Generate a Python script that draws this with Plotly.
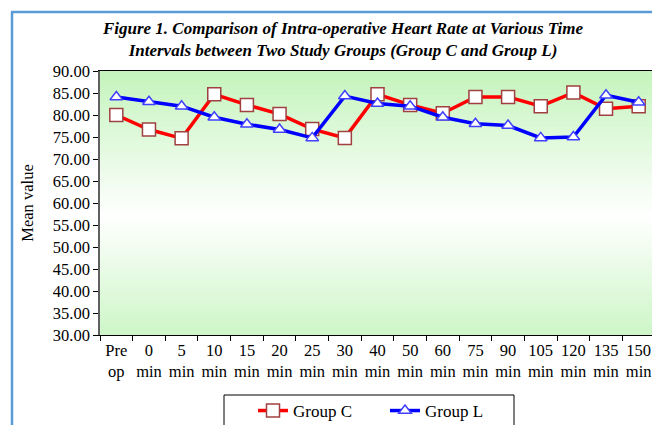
import plotly.graph_objects as go

categories = ["Pre<br>op", "0<br>min", "5<br>min", "10<br>min", "15<br>min", "20<br>min",
              "25<br>min", "30<br>min", "40<br>min", "50<br>min", "60<br>min", "75<br>min",
              "90<br>min", "105<br>min", "120<br>min", "135<br>min", "150<br>min"]
group_c = [80.0, 76.7, 74.7, 84.7, 82.3, 80.2, 76.8, 74.8, 84.7, 82.3, 80.4, 84.1,
           84.1, 82.0, 85.1, 81.4, 82.0]
group_l = [84.1, 83.0, 82.0, 79.5, 77.9, 76.7, 74.8, 84.3, 82.6, 82.0, 79.5, 78.0,
           77.6, 74.8, 75.0, 84.5, 82.9]
y_ticks = [30 + 5 * i for i in range(13)]

W, H = 660, 425
OFF = 8  # page body margin offset
L_PX, R_PX, T_PX, B_PX = 100 - OFF, 655 - OFF, 71 - OFF, 335 - OFF
PW, PH = R_PX - L_PX, B_PX - T_PX

def px_x(x):
    return (x - OFF - L_PX) / PW

def px_y(y):
    return (B_PX - (y - OFF)) / PH

font_family = "Liberation Serif, Times New Roman, serif"

fig = go.Figure()
fig.add_trace(go.Scatter(
    x=categories, y=group_c, name="Group C", mode="lines+markers",
    line=dict(color="#ff0000", width=3.5),
    marker=dict(symbol="square", size=13, color="white",
                line=dict(color="#a04040", width=1.5)),
))
fig.add_trace(go.Scatter(
    x=categories, y=group_l, name="Group L", mode="lines+markers",
    line=dict(color="#0000ff", width=3.5),
    marker=dict(symbol="triangle-up", size=11, color="white",
                line=dict(color="#4040ff", width=1.5)),
))

shapes = []
# gradient background: green -> white -> green
N = 80
top = (196, 244, 188)
bot = (205, 246, 199)
mid = (255, 255, 255)
mid_pos = 0.45  # fraction from bottom where white
for i in range(N):
    f = (i + 0.5) / N  # from bottom
    if f < mid_pos:
        t = f / mid_pos
        c = tuple(round(bot[k] + (mid[k] - bot[k]) * t) for k in range(3))
    else:
        t = (f - mid_pos) / (1 - mid_pos)
        c = tuple(round(mid[k] + (top[k] - mid[k]) * t) for k in range(3))
    shapes.append(dict(type="rect", xref="x domain", yref="y domain",
                       x0=0, x1=1, y0=i / N, y1=(i + 1) / N + 0.002,
                       fillcolor="rgb(%d,%d,%d)" % c, line=dict(width=0),
                       layer="below"))

# document frame (blue border)
shapes.append(dict(type="line", xref="paper", yref="paper",
                   x0=px_x(12), x1=px_x(12), y0=px_y(12), y1=px_y(450),
                   line=dict(color="#5b9bd5", width=2.5)))
shapes.append(dict(type="line", xref="paper", yref="paper",
                   x0=px_x(11), x1=px_x(690), y0=px_y(12), y1=px_y(12),
                   line=dict(color="#5b9bd5", width=2.5)))
# legend box
shapes.append(dict(type="rect", xref="paper", yref="paper",
                   x0=px_x(224), x1=px_x(514), y0=px_y(450), y1=px_y(395),
                   line=dict(color="#000000", width=1), fillcolor="white"))

fig.update_layout(
    width=W, height=H,
    margin=dict(l=L_PX, r=W - R_PX, t=T_PX, b=H - B_PX, autoexpand=False),
    paper_bgcolor="white", plot_bgcolor="white",
    font=dict(family=font_family, size=16, color="#000000"),
    title=dict(
        text="<b><i>Figure 1. Comparison of Intra-operative Heart Rate at Various Time<br>"
             "Intervals between Two Study Groups (Group C and Group L)</i></b>",
        x=(343 - OFF) / W, xanchor="center", xref="container",
        y=1 - 26 / H, yanchor="top", yref="container",
        font=dict(family=font_family, size=17, color="#000000"),
    ),
    shapes=shapes,
    showlegend=True,
    legend=dict(orientation="h", x=px_x(253), xanchor="left",
                y=px_y(393), yanchor="top",
                bgcolor="rgba(0,0,0,0)", borderwidth=0,
                entrywidth=87, entrywidthmode="pixels",
                font=dict(family=font_family, size=17)),
)

fig.update_xaxes(
    type="category", range=[-0.5, len(categories) - 0.5],
    tickson="boundaries", ticks="outside", ticklen=5,
    tickcolor="#000000", showline=True, linecolor="#000000", linewidth=1,
    mirror=True, showgrid=False, tickfont=dict(size=16.5), tickangle=0,
    automargin=False,
)
fig.update_yaxes(
    range=[30, 90], tickvals=y_ticks, tickformat=".2f", ticks="outside",
    ticklen=5, tickcolor="#000000", showline=True, linecolor="#606060",
    linewidth=1.5, mirror=True, showgrid=False, zeroline=False,
    tickfont=dict(size=16.5), automargin=False,
    title=dict(text="Mean value", font=dict(size=16.5), standoff=15),
)

fig.write_html("out.html")
